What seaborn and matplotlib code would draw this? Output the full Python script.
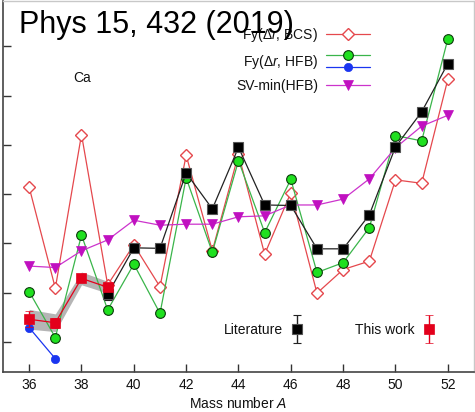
import numpy as np
import pandas as pd
import matplotlib
matplotlib.use("Agg")
import matplotlib.pyplot as plt
import seaborn as sns
from matplotlib.legend_handler import HandlerBase, HandlerErrorbar
from matplotlib.lines import Line2D
from matplotlib.container import ErrorbarContainer

# ---------------- data ----------------
mass_all = list(range(36, 53))
fy_bcs = [0.114, -0.091, 0.221, -0.084, -0.003, -0.088, 0.179, -0.015, 0.181,
          -0.022, 0.103, -0.101, -0.053, -0.036, 0.129, 0.122, 0.333]
fy_hfb = [-0.098, -0.191, 0.017, -0.135, -0.042, -0.142, 0.133, -0.018, 0.168,
          0.022, 0.130, -0.059, -0.039, 0.032, 0.219, 0.208, 0.415]
mass_blue = [36, 37]
fy_hfb_blue = [-0.171, -0.234]
sv_min = [-0.046, -0.049, -0.015, 0.007, 0.047, 0.037, 0.039, 0.039, 0.054,
          0.056, 0.078, 0.078, 0.090, 0.131, 0.194, 0.238, 0.260]
mass_lit = list(range(39, 53))
literature = [-0.103, -0.009, -0.010, 0.143, 0.070, 0.195, 0.078, 0.077,
              -0.011, -0.011, 0.058, 0.196, 0.267, 0.365]
literature_err = [0.012] + [0.0] * 13
mass_this = [36, 37, 38, 39]
this_work = [-0.154, -0.161, -0.071, -0.089]
this_work_err = [0.016, 0.010, 0.006, 0.006]
this_work_band = [0.020, 0.018, 0.013, 0.012]
x_ticks = list(range(36, 53, 2))
y_ticks = [-0.2, -0.1, 0.0, 0.1, 0.2, 0.3, 0.4]

# ---------------- style ----------------
sns.set_theme(style="ticks")
plt.rcParams["font.family"] = ["Liberation Sans", "DejaVu Sans"]
plt.rcParams["mathtext.fontset"] = "custom"
plt.rcParams["mathtext.rm"] = "Liberation Sans"
plt.rcParams["mathtext.it"] = "Liberation Sans:italic"
plt.rcParams["text.color"] = "#111111"
plt.rcParams["axes.labelcolor"] = "#111111"
plt.rcParams["xtick.labelcolor"] = "#111111"

C_BCS = "#e5484d"
C_HFB_LINE = "#3ab54a"
C_HFB_FILL = "#1fe01f"
C_BLUE = "#1a35f0"
C_SV = "#cc33cc"
C_SV_FILL = "#c010c0"
C_THIS = "#e3001b"

fig = plt.figure(figsize=(4.75, 4.12), dpi=100)
ax = fig.add_axes([3 / 475, 1 - 372 / 412, 471 / 475, 371 / 412])

df_all = pd.DataFrame({"A": mass_all, "bcs": fy_bcs, "hfb": fy_hfb, "sv": sv_min})
df_blue = pd.DataFrame({"A": mass_blue, "v": fy_hfb_blue})
df_lit = pd.DataFrame({"A": mass_lit, "v": literature, "e": literature_err})
df_this = pd.DataFrame({"A": mass_this, "v": this_work, "e": this_work_err,
                        "b": this_work_band})

# gray band for this work
ax.fill_between(df_this["A"], df_this["v"] - df_this["b"], df_this["v"] + df_this["b"],
                color="#a8a8a8", alpha=0.85, lw=0, zorder=1)

sns.lineplot(data=df_all, x="A", y="bcs", ax=ax, color=C_BCS, lw=0.9,
             marker="D", markersize=6, markerfacecolor="white",
             markeredgecolor=C_BCS, markeredgewidth=1.0, zorder=2,
             estimator=None, legend=False)
h_bcs = ax.lines[-1]
sns.lineplot(data=df_all, x="A", y="hfb", ax=ax, color=C_HFB_LINE, lw=0.9,
             marker="o", markersize=7, markerfacecolor=C_HFB_FILL,
             markeredgecolor="#0b3a0b", markeredgewidth=0.8, zorder=3,
             estimator=None, legend=False)
h_hfb = ax.lines[-1]
sns.lineplot(data=df_blue, x="A", y="v", ax=ax, color=C_BLUE, lw=0.9,
             marker="o", markersize=6, markerfacecolor=C_BLUE,
             markeredgecolor=C_BLUE, markeredgewidth=0.5, zorder=3,
             estimator=None, legend=False)
h_blue = ax.lines[-1]
sns.lineplot(data=df_all, x="A", y="sv", ax=ax, color=C_SV, lw=0.9,
             marker="v", markersize=7, markerfacecolor=C_SV_FILL,
             markeredgecolor=C_SV_FILL, markeredgewidth=0.5, zorder=4,
             estimator=None, legend=False)
h_sv = ax.lines[-1]

# literature
sns.lineplot(data=df_lit, x="A", y="v", ax=ax, color="#222222", lw=0.9,
             zorder=5, estimator=None, legend=False)
h_lit = ax.errorbar(df_lit["A"], df_lit["v"], yerr=df_lit["e"], fmt="s", ms=7.5,
                    color="black", mfc="black", mec="#555555", mew=0.8,
                    ecolor="#222222", elinewidth=1.0, capsize=3.2, zorder=5.5)
# this work
sns.lineplot(data=df_this, x="A", y="v", ax=ax, color=C_THIS, lw=0.9,
             zorder=6, estimator=None, legend=False)
h_this = ax.errorbar(df_this["A"], df_this["v"], yerr=df_this["e"], fmt="s", ms=7,
                     color=C_THIS, mfc=C_THIS, mec=C_THIS, mew=0.5,
                     ecolor=C_THIS, elinewidth=1.0, capsize=3.2, zorder=6.5)

# ---------------- axes ----------------
ax.set_xlim(35.0, 53.0)
ax.set_ylim(-0.261, 0.492)
ax.set_xticks(x_ticks)
ax.set_xticklabels([str(t) for t in x_ticks])
ax.set_yticks(y_ticks)
ax.set_yticklabels([])
ax.tick_params(axis="both", direction="in", length=6, width=1.0, color="#333333",
               labelsize=10, pad=4.5)
ax.set_xlabel("Mass number $A$", fontsize=10, labelpad=3)
ax.set_ylabel("")
for s in ["left", "bottom"]:
    ax.spines[s].set_color("#444444")
    ax.spines[s].set_linewidth(1.2)
for s in ["top", "right"]:
    ax.spines[s].set_visible(True)
    ax.spines[s].set_color("#c8c8c8")
    ax.spines[s].set_linewidth(1.0)

ax.text(0.168, 0.792, "Ca", transform=ax.transAxes, fontsize=10,
        ha="center", va="center")


# ---------------- legends ----------------
class StackedHandler(HandlerBase):
    def create_artists(self, legend, orig_handle, xdescent, ydescent, width,
                       height, fontsize, trans):
        arts = []
        yc = (height - ydescent) / 2.0
        for h, dy in zip(orig_handle, (4.3, -4.3)):
            ln = Line2D([-xdescent, width - xdescent], [yc + dy, yc + dy],
                        color=h.get_color(), lw=h.get_linewidth())
            mk = Line2D([width / 2.0 - xdescent], [yc + dy], ls="none",
                        marker=h.get_marker(), markersize=h.get_markersize(),
                        markerfacecolor=h.get_markerfacecolor(),
                        markeredgecolor=h.get_markeredgecolor(),
                        markeredgewidth=h.get_markeredgewidth())
            ln.set_transform(trans)
            mk.set_transform(trans)
            arts += [ln, mk]
        return arts


leg1 = ax.legend([h_bcs, (h_hfb, h_blue), h_sv],
                 ["Fy(Δ$r$, BCS)", "Fy(Δ$r$, HFB)", "SV-min(HFB)"],
                 handler_map={tuple: StackedHandler()},
                 loc="upper right", bbox_to_anchor=(0.78, 0.932),
                 frameon=False, fontsize=10, markerfirst=False, numpoints=1,
                 handlelength=3.2, handletextpad=0.58, labelspacing=0.6,
                 borderpad=0, borderaxespad=0)
ax.add_artist(leg1)

leg2 = ax.legend([h_lit, h_this], ["Literature", "This work"],
                 handler_map={ErrorbarContainer: HandlerErrorbar(yerr_size=1.0, numpoints=1)},
                 ncol=2, loc="center right", bbox_to_anchor=(0.919, 0.113),
                 frameon=False, fontsize=10, markerfirst=False,
                 handlelength=1.0, handletextpad=0.5, columnspacing=3.7,
                 borderpad=0, borderaxespad=0)

fig.text(19 / 475, 1 - 33 / 412, "Phys 15, 432 (2019)", fontsize=22,
         color="black", ha="left", va="baseline", zorder=10)

fig.savefig("out.png", dpi=100)
